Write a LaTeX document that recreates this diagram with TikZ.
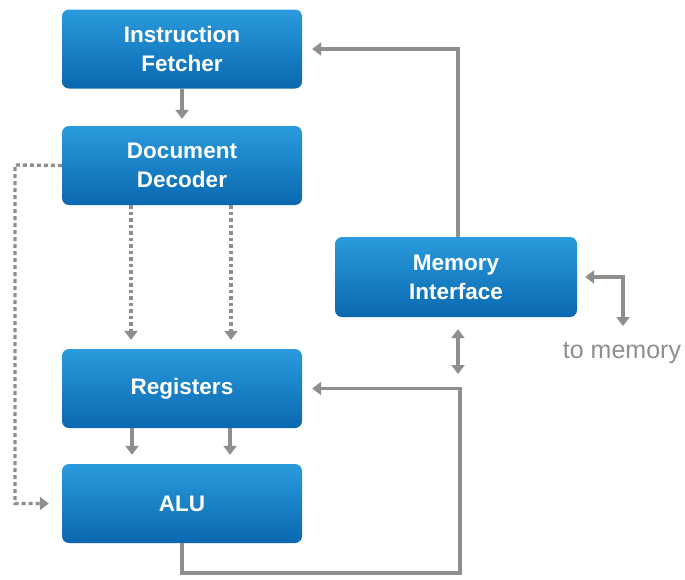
\documentclass[tikz,border=0pt]{standalone}
\usepackage{fontspec}
\setmainfont{Liberation Sans}
\usetikzlibrary{arrows.meta}
\definecolor{boxtop}{HTML}{2A9BDD}
\definecolor{boxbot}{HTML}{0A68B0}
\definecolor{linegray}{HTML}{8E8E8E}
\tikzset{
  unit/.style={rounded corners=7pt, top color=boxtop, bottom color=boxbot, draw=none,
    minimum width=240pt, minimum height=79pt, text=white, align=center,
    font=\fontsize{22.5}{29}\selectfont\bfseries, inner sep=0pt},
  conn/.style={draw=linegray, line width=3.4pt, -{Triangle[width=13pt,length=9pt]}},
  biconn/.style={draw=linegray, line width=3.4pt, {Triangle[width=13pt,length=9pt]}-{Triangle[width=13pt,length=9pt]}},
  dotconn/.style={conn, dash pattern=on 3.5pt off 3pt},
}
\begin{document}
\begin{tikzpicture}[x=1pt,y=-1pt]
\useasboundingbox[fill=white] (0,0) rectangle (685,579);
\node[unit] (IF) at (182,49) {Instruction\\Fetcher};
\node[unit] (DD) at (182,165.5) {Document\\Decoder};
\node[unit] (RG) at (182,388.5) {Registers};
\node[unit] (ALU) at (182,503.5) {ALU};
\node[unit, minimum width=242pt, minimum height=80pt] (MI) at (456,277) {Memory\\Interface};
\node[text=linegray, font=\fontsize{25}{28}\selectfont] (TM) at (622,353) {to memory};

\coordinate (mlo) at (458,374);
\coordinate (tmd) at (623,326);
\coordinate (rb) at (460,573);
\coordinate (dl) at (15,165);

\draw[conn, shorten >=7pt] (IF.south) -- (DD.north);
\draw[conn, shorten >=10pt] ([xshift=2pt]MI.north) |- (IF.east);
\draw[biconn, shorten <=12pt] ([xshift=2pt]MI.south) -- (mlo);
\draw[biconn, shorten <=8pt] (MI.east) -| (tmd);
\draw[conn, shorten >=10pt] (ALU.south) |- (rb) |- (RG.east);
\draw[conn, shorten >=9pt] ([xshift=-50pt]RG.south) -- ([xshift=-50pt]ALU.north);
\draw[conn, shorten >=9pt] ([xshift=48pt]RG.south) -- ([xshift=48pt]ALU.north);
\draw[dotconn, shorten >=9pt] ([xshift=-51pt]DD.south) -- ([xshift=-51pt]RG.north);
\draw[dotconn, shorten >=9pt] ([xshift=49pt]DD.south) -- ([xshift=49pt]RG.north);
\draw[dotconn, dash pattern=on 4pt off 3pt, shorten >=13pt] (DD.west) -- (dl) |- (ALU.west);
\end{tikzpicture}
\end{document}
